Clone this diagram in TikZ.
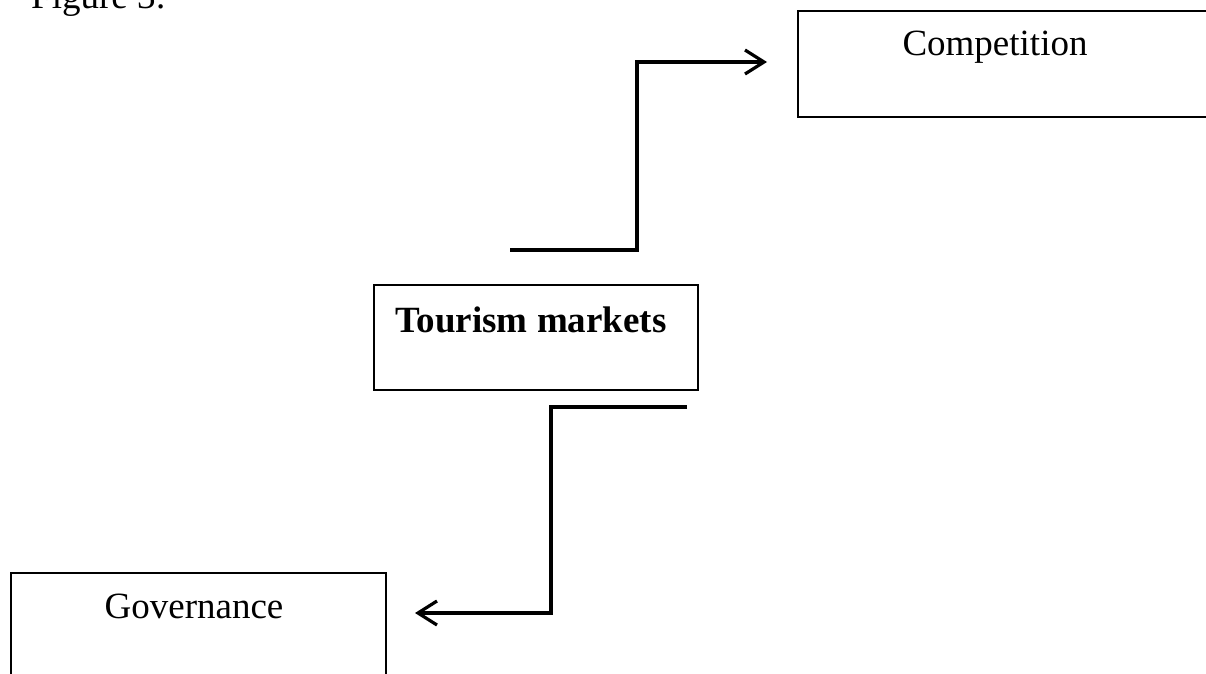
\documentclass[tikz,border=0pt]{standalone}
\usepackage{fontspec}
\setmainfont{Liberation Serif}
\usetikzlibrary{arrows.meta}
\begin{document}
\begin{tikzpicture}[x=1pt,y=-1pt,
  box/.style={draw=black,line width=1.7pt,inner sep=0pt,anchor=north west},
  lbl/.style={inner sep=0pt,anchor=base,font=\fontsize{37}{44}\selectfont},
  conn/.style={line width=3.2pt,-{Straight Barb[length=19pt,width=24pt,line width=3.2pt]}}]
\clip (0,0) rectangle (1206,673);
\fill[white] (0,0) rectangle (1206,673);
\node[inner sep=0pt,anchor=base west,font=\fontsize{37}{44}\selectfont] (fig) at (31,8) {Figure 3:};
\node[box,minimum width=420pt,minimum height=106pt] (comp) at (797,10) {};
\node[lbl] (compt) at (995,55) {Competition};
\node[box,minimum width=324pt,minimum height=105pt] (tour) at (373,284) {};
\node[lbl,font=\fontsize{37}{44}\selectfont\bfseries] (tourt) at (531,332) {Tourism markets};
\node[box,minimum width=375pt,minimum height=120pt] (gov) at (10,572) {};
\node[lbl] (govt) at (194,618) {Governance};
\coordinate (a1) at (510,250);
\coordinate (a2) at (767,62);
\coordinate (b1) at (687,407);
\coordinate (b2) at (415,613);
\draw[conn] (a1) -- (637,250) |- (a2);
\draw[conn] (b1) -- (551,407) |- (b2);
\end{tikzpicture}
\end{document}
